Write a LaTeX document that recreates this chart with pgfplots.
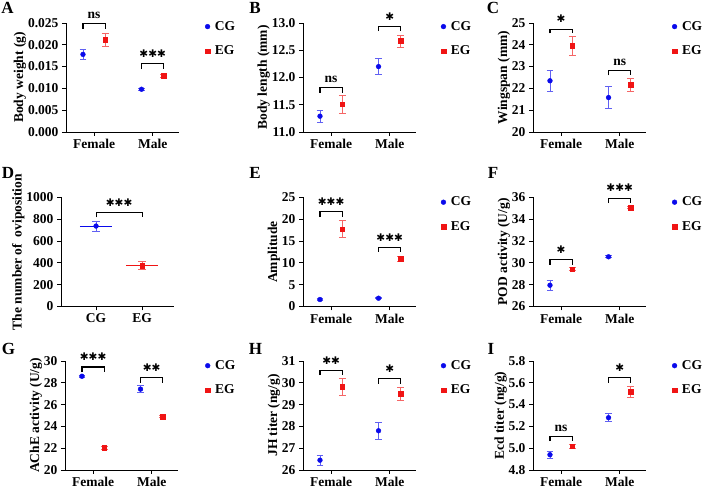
\documentclass[border=0pt]{standalone}
\usepackage{pgfplots}
\pgfplotsset{compat=1.18}
\usepackage{fontspec}
\setmainfont{Liberation Serif}
\newfontfamily\symfont{DejaVu Sans}
\newcommand\fs{\fontsize{13.5}{15}\selectfont\bfseries}
\newcommand\sone{{\symfont\fontsize{10.5}{10}\selectfont ✱}}
\newcommand\stwo{{\symfont\fontsize{10.5}{10}\selectfont ✱✱}}
\newcommand\sthree{{\symfont\fontsize{10.5}{10}\selectfont ✱✱✱}}
\definecolor{cgb}{RGB}{10,10,235}
\definecolor{egr}{RGB}{240,20,20}
\tikzset{
  brk/.style={line width=1.1pt, black},
  nst/.style={anchor=base, inner sep=0pt, yshift=4.5pt, font=\fs},
  stt/.style={inner sep=0pt, yshift=10pt},
  plet/.style={font=\fontsize{17}{17}\selectfont\bfseries, inner sep=0pt},
}
\pgfplotsset{
  common/.style={
    scale only axis, width=113pt, height=109pt,
    axis lines=left, axis line style={-, line width=0.9pt},
    tick align=outside, major tick length=4pt,
    tick style={black, line width=0.9pt},
    clip=false, scaled y ticks=false,
    /pgf/number format/assume math mode=true,
    tick label style={font=\fs},
    label style={font=\fs},
    ylabel style={yshift=-5pt},
    xtick={1,2}, xticklabels={Female,Male}, xmin=0.52, xmax=2.45,
    anchor=south west,
    legend style={draw=none, fill=none, anchor=north west, inner sep=0pt,
      row sep=10pt, font=\fs, cells={anchor=west},
      /tikz/every odd column/.append style={column sep=3pt}},
  },
  cg/.style={only marks, mark=*, color=cgb, mark size=2.4pt,
    legend image code/.code={\draw[##1] plot coordinates {(0pt,0pt)};},
    error bars/y dir=both, error bars/y explicit,
    error bars/error bar style={cgb!65, line width=0.8pt},
    error bars/error mark options={rotate=90, mark size=3.3pt, cgb!65, line width=0.8pt}},
  eg/.style={only marks, mark=square*, color=egr, mark size=2.3pt,
    legend image code/.code={\draw[##1] plot coordinates {(0pt,0pt)};},
    error bars/y dir=both, error bars/y explicit,
    error bars/error bar style={egr!65, line width=0.8pt},
    error bars/error mark options={rotate=90, mark size=3.3pt, egr!65, line width=0.8pt}},
}
\begin{document}
\begin{tikzpicture}
\useasboundingbox (0pt,0pt) rectangle (709pt,489pt);
% ---------- A
\begin{axis}[common, at={(66pt,357pt)}, ymin=0, ymax=0.025,
  ytick={0,0.005,0.01,0.015,0.02,0.025},
  yticklabel style={/pgf/number format/.cd,fixed,fixed zerofill,precision=3},
  ylabel={Body weight (g)}, legend style={at={(1.23,1.035)}}]
\addplot[cg] coordinates {(0.81,0.0178) +- (0,0.0011) (1.81,0.0098) +- (0,0.0003)};
\addplot[eg] coordinates {(1.19,0.0212) +- (0,0.0015) (2.19,0.0129) +- (0,0.0003)};
\legend{CG,EG}
\draw[brk] (axis cs:0.81,0.0237) |- (axis cs:1.19,0.0249) -- (axis cs:1.19,0.0237);
\node[nst] at (axis cs:1,0.0249) {ns};
\draw[brk] (axis cs:1.81,0.0144) |- (axis cs:2.19,0.0157) -- (axis cs:2.19,0.0144);
\node[stt] at (axis cs:2,0.0157) {\sthree};
\end{axis}
% ---------- B
\begin{axis}[common, at={(303pt,357pt)}, ymin=11, ymax=13,
  ytick={11,11.5,12,12.5,13},
  yticklabel style={/pgf/number format/.cd,fixed,fixed zerofill,precision=1},
  ylabel={Body length (mm)}, legend style={at={(1.22,1.035)}}]
\addplot[cg] coordinates {(0.81,11.29) +- (0,0.11) (1.81,12.2) +- (0,0.15)};
\addplot[eg] coordinates {(1.19,11.51) +- (0,0.16) (2.19,12.67) +- (0,0.11)};
\legend{CG,EG}
\draw[brk] (axis cs:0.81,11.72) |- (axis cs:1.19,11.82) -- (axis cs:1.19,11.72);
\node[nst] at (axis cs:1,11.82) {ns};
\draw[brk] (axis cs:1.81,12.85) |- (axis cs:2.19,12.93) -- (axis cs:2.19,12.85);
\node[stt] at (axis cs:2,12.93) {\sone};
\end{axis}
% ---------- C
\begin{axis}[common, at={(533pt,357pt)}, ymin=20, ymax=25,
  ytick={20,21,22,23,24,25},
  ylabel={Wingspan (mm)}, legend style={at={(1.23,1.035)}}]
\addplot[cg] coordinates {(0.81,22.35) +- (0,0.48) (1.81,21.58) +- (0,0.5)};
\addplot[eg] coordinates {(1.19,23.95) +- (0,0.44) (2.19,22.18) +- (0,0.3)};
\legend{CG,EG}
\draw[brk] (axis cs:0.81,24.52) |- (axis cs:1.19,24.72) -- (axis cs:1.19,24.52);
\node[stt] at (axis cs:1,24.72) {\sone};
\draw[brk] (axis cs:1.81,22.6) |- (axis cs:2.19,22.83) -- (axis cs:2.19,22.6);
\node[nst] at (axis cs:2,22.83) {ns};
\end{axis}
% ---------- D
\begin{axis}[common, at={(61pt,182.5pt)}, ymin=0, ymax=1000,
  ytick={0,200,400,600,800,1000},
  yticklabel style={/pgf/number format/.cd,set thousands separator={}},
  xmin=0.24, xmax=2.69, xticklabels={CG,EG},
  ylabel={The number of \ oviposition}]
\addplot[cg, error bars/error mark options={rotate=90, mark size=3.7pt, cgb!65, line width=0.8pt}] coordinates {(1,738) +- (0,45)};
\addplot[eg, error bars/error mark options={rotate=90, mark size=3.7pt, egr!65, line width=0.8pt}] coordinates {(2,375) +- (0,36)};
\addplot[cgb, line width=1pt, no marks] coordinates {(0.65,738) (1.35,738)};
\addplot[egr, line width=1pt, no marks] coordinates {(1.66,375) (2.34,375)};
\draw[brk] (axis cs:1,817) |- (axis cs:2,863) -- (axis cs:2,817);
\node[stt] at (axis cs:1.5,863) {\sthree};
\end{axis}
% ---------- E
\begin{axis}[common, at={(303pt,182.5pt)}, ymin=0, ymax=25,
  ytick={0,5,10,15,20,25},
  ylabel={Amplitude}, legend style={at={(1.22,1.025)}}]
\addplot[cg] coordinates {(0.81,1.6) +- (0,0.15) (1.81,1.9) +- (0,0.15)};
\addplot[eg] coordinates {(1.19,17.7) +- (0,1.95) (2.19,10.93) +- (0,0.6)};
\legend{CG,EG}
\draw[brk] (axis cs:0.81,20.5) |- (axis cs:1.19,21.8) -- (axis cs:1.19,20.5);
\node[stt] at (axis cs:1,21.8) {\sthree};
\draw[brk] (axis cs:1.81,12.5) |- (axis cs:2.19,13.6) -- (axis cs:2.19,12.5);
\node[stt] at (axis cs:2,13.6) {\sthree};
\end{axis}
% ---------- F
\begin{axis}[common, at={(533pt,182.5pt)}, ymin=26, ymax=36,
  ytick={26,28,30,32,34,36},
  ylabel={POD activity (U/g)}, legend style={at={(1.23,1.025)}}]
\addplot[cg] coordinates {(0.81,27.95) +- (0,0.43) (1.81,30.56) +- (0,0.1)};
\addplot[eg] coordinates {(1.19,29.43) +- (0,0.12) (2.19,35.08) +- (0,0.12)};
\legend{CG,EG}
\draw[brk] (axis cs:0.81,29.83) |- (axis cs:1.19,30.28) -- (axis cs:1.19,29.83);
\node[stt] at (axis cs:1,30.28) {\sone};
\draw[brk] (axis cs:1.81,35.49) |- (axis cs:2.19,35.94) -- (axis cs:2.19,35.49);
\node[stt] at (axis cs:2,35.94) {\sthree};
\end{axis}
% ---------- G
\begin{axis}[common, at={(65pt,19pt)}, ymin=20, ymax=30,
  ytick={20,22,24,26,28,30},
  ylabel={AChE activity (U/g)}, legend style={at={(1.24,1.025)}}]
\addplot[cg] coordinates {(0.81,28.6) +- (0,0.1) (1.81,27.42) +- (0,0.33)};
\addplot[eg] coordinates {(1.19,22.04) +- (0,0.15) (2.19,24.91) +- (0,0.12)};
\legend{CG,EG}
\draw[brk] (axis cs:0.81,28.99) |- (axis cs:1.19,29.45) -- (axis cs:1.19,28.99);
\node[stt] at (axis cs:1,29.45) {\sthree};
\draw[brk] (axis cs:1.81,27.99) |- (axis cs:2.19,28.48) -- (axis cs:2.19,27.99);
\node[stt] at (axis cs:2,28.48) {\stwo};
\end{axis}
% ---------- H
\begin{axis}[common, at={(303pt,19pt)}, ymin=26, ymax=31,
  ytick={26,27,28,29,30,31},
  ylabel={JH titer (ng/g)}, legend style={at={(1.22,1.025)}}]
\addplot[cg] coordinates {(0.81,26.45) +- (0,0.22) (1.81,27.8) +- (0,0.4)};
\addplot[eg] coordinates {(1.19,29.82) +- (0,0.4) (2.19,29.5) +- (0,0.3)};
\legend{CG,EG}
\draw[brk] (axis cs:0.81,30.35) |- (axis cs:1.19,30.57) -- (axis cs:1.19,30.35);
\node[stt] at (axis cs:1,30.57) {\stwo};
\draw[brk] (axis cs:1.81,29.96) |- (axis cs:2.19,30.19) -- (axis cs:2.19,29.96);
\node[stt] at (axis cs:2,30.19) {\sone};
\end{axis}
% ---------- I
\begin{axis}[common, at={(533pt,19pt)}, ymin=4.8, ymax=5.8,
  ytick={4.8,5.0,5.2,5.4,5.6,5.8},
  yticklabel style={/pgf/number format/.cd,fixed,fixed zerofill,precision=1},
  ylabel={Ecd titer (ng/g)}, legend style={at={(1.23,1.025)}}]
\addplot[cg] coordinates {(0.81,4.94) +- (0,0.035) (1.81,5.28) +- (0,0.035)};
\addplot[eg] coordinates {(1.19,5.017) +- (0,0.015) (2.19,5.52) +- (0,0.05)};
\legend{CG,EG}
\draw[brk] (axis cs:0.81,5.065) |- (axis cs:1.19,5.11) -- (axis cs:1.19,5.065);
\node[nst] at (axis cs:1,5.11) {ns};
\draw[brk] (axis cs:1.81,5.6) |- (axis cs:2.19,5.648) -- (axis cs:2.19,5.6);
\node[stt] at (axis cs:2,5.648) {\sone};
\end{axis}
% panel letters
\node[plet] at (7.5pt,481pt) {A};
\node[plet] at (255pt,481pt) {B};
\node[plet] at (493pt,481pt) {C};
\node[plet] at (8pt,316pt) {D};
\node[plet] at (255pt,316pt) {E};
\node[plet] at (493pt,316pt) {F};
\node[plet] at (8.5pt,140pt) {G};
\node[plet] at (255.5pt,140pt) {H};
\node[plet] at (491pt,140pt) {I};
\end{tikzpicture}
\end{document}
